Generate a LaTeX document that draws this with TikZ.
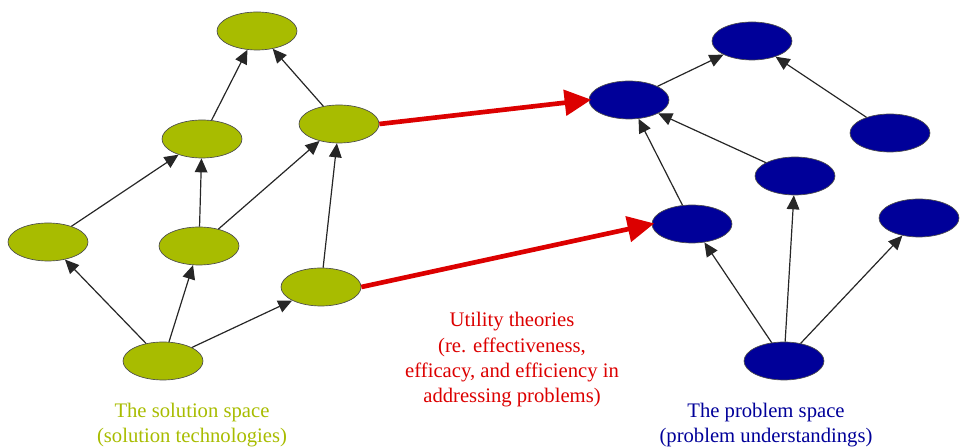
\documentclass[tikz,border=0pt]{standalone}
\usepackage{fontspec}
\setmainfont{Liberation Serif}
\usetikzlibrary{arrows.meta,shapes.geometric}

\definecolor{solgreen}{RGB}{168,188,0}
\definecolor{probblue}{RGB}{0,0,153}
\definecolor{utilred}{RGB}{220,0,0}

\tikzset{
    solnode/.style={ellipse, draw=black!70, line width=0.5pt, fill=solgreen, minimum width=60pt, minimum height=28.5pt, inner sep=0pt},
    probnode/.style={ellipse, draw=black!70, line width=0.5pt, fill=probblue, minimum width=60pt, minimum height=28.5pt, inner sep=0pt},
    link/.style={draw=black!85, line width=0.9pt, -{Triangle[length=10.5pt, width=9.5pt]}},
    utility/.style={draw=utilred, line width=3.5pt, -{Triangle[length=20pt, width=19pt]}, shorten >=-2pt},
    caption/.style={align=center, font=\fontsize{15.5}{19}\selectfont}
}

\begin{document}
\begin{tikzpicture}[x=0.75pt, y=-0.75pt]
    \useasboundingbox (0, 0) rectangle (960, 448);

    \node[solnode] (sol1) at (257, 31) {};
    \node[solnode] (sol2) at (202, 139) {};
    \node[solnode] (sol3) at (339, 124) {};
    \node[solnode] (sol4) at (48, 242) {};
    \node[solnode] (sol5) at (199, 246) {};
    \node[solnode] (sol6) at (321, 287) {};
    \node[solnode] (sol7) at (163, 361) {};

    \node[probnode] (prob1) at (752, 41) {};
    \node[probnode] (prob2) at (629, 100) {};
    \node[probnode] (prob3) at (890, 133) {};
    \node[probnode] (prob4) at (795, 176) {};
    \node[probnode] (prob5) at (692, 224) {};
    \node[probnode] (prob6) at (919, 218) {};
    \node[probnode] (prob7) at (784, 361) {};

    \draw[link] (sol2) -- (sol1);
    \draw[link] (sol3) -- (sol1);
    \draw[link] (sol4) -- (sol2);
    \draw[link] (sol5) -- (sol2);
    \draw[link] (sol5) -- (sol3);
    \draw[link] (sol6) -- (sol3);
    \draw[link] (sol7) -- (sol4);
    \draw[link] (sol7) -- (sol5);
    \draw[link] (sol7) -- (sol6);

    \draw[link] (prob2) -- (prob1);
    \draw[link] (prob3) -- (prob1);
    \draw[link] (prob4) -- (prob2);
    \draw[link] (prob5) -- (prob2);
    \draw[link] (prob7) -- (prob5);
    \draw[link] (prob7) -- (prob4);
    \draw[link] (prob7) -- (prob6);

    \draw[utility] (sol3.east) -- (prob2.west);
    \draw[utility] (sol6.east) -- (prob5.west);

    \node[caption, text=solgreen] (solspace) at (192, 425) {The solution space\\(solution technologies)};
    \node[caption, text=utilred] (utiltext) at (512, 360) {Utility theories\\(re. effectiveness,\\efficacy, and efficiency in\\addressing problems)};
    \node[caption, text=probblue] (probspace) at (766, 425) {The problem space\\(problem understandings)};
\end{tikzpicture}
\end{document}
